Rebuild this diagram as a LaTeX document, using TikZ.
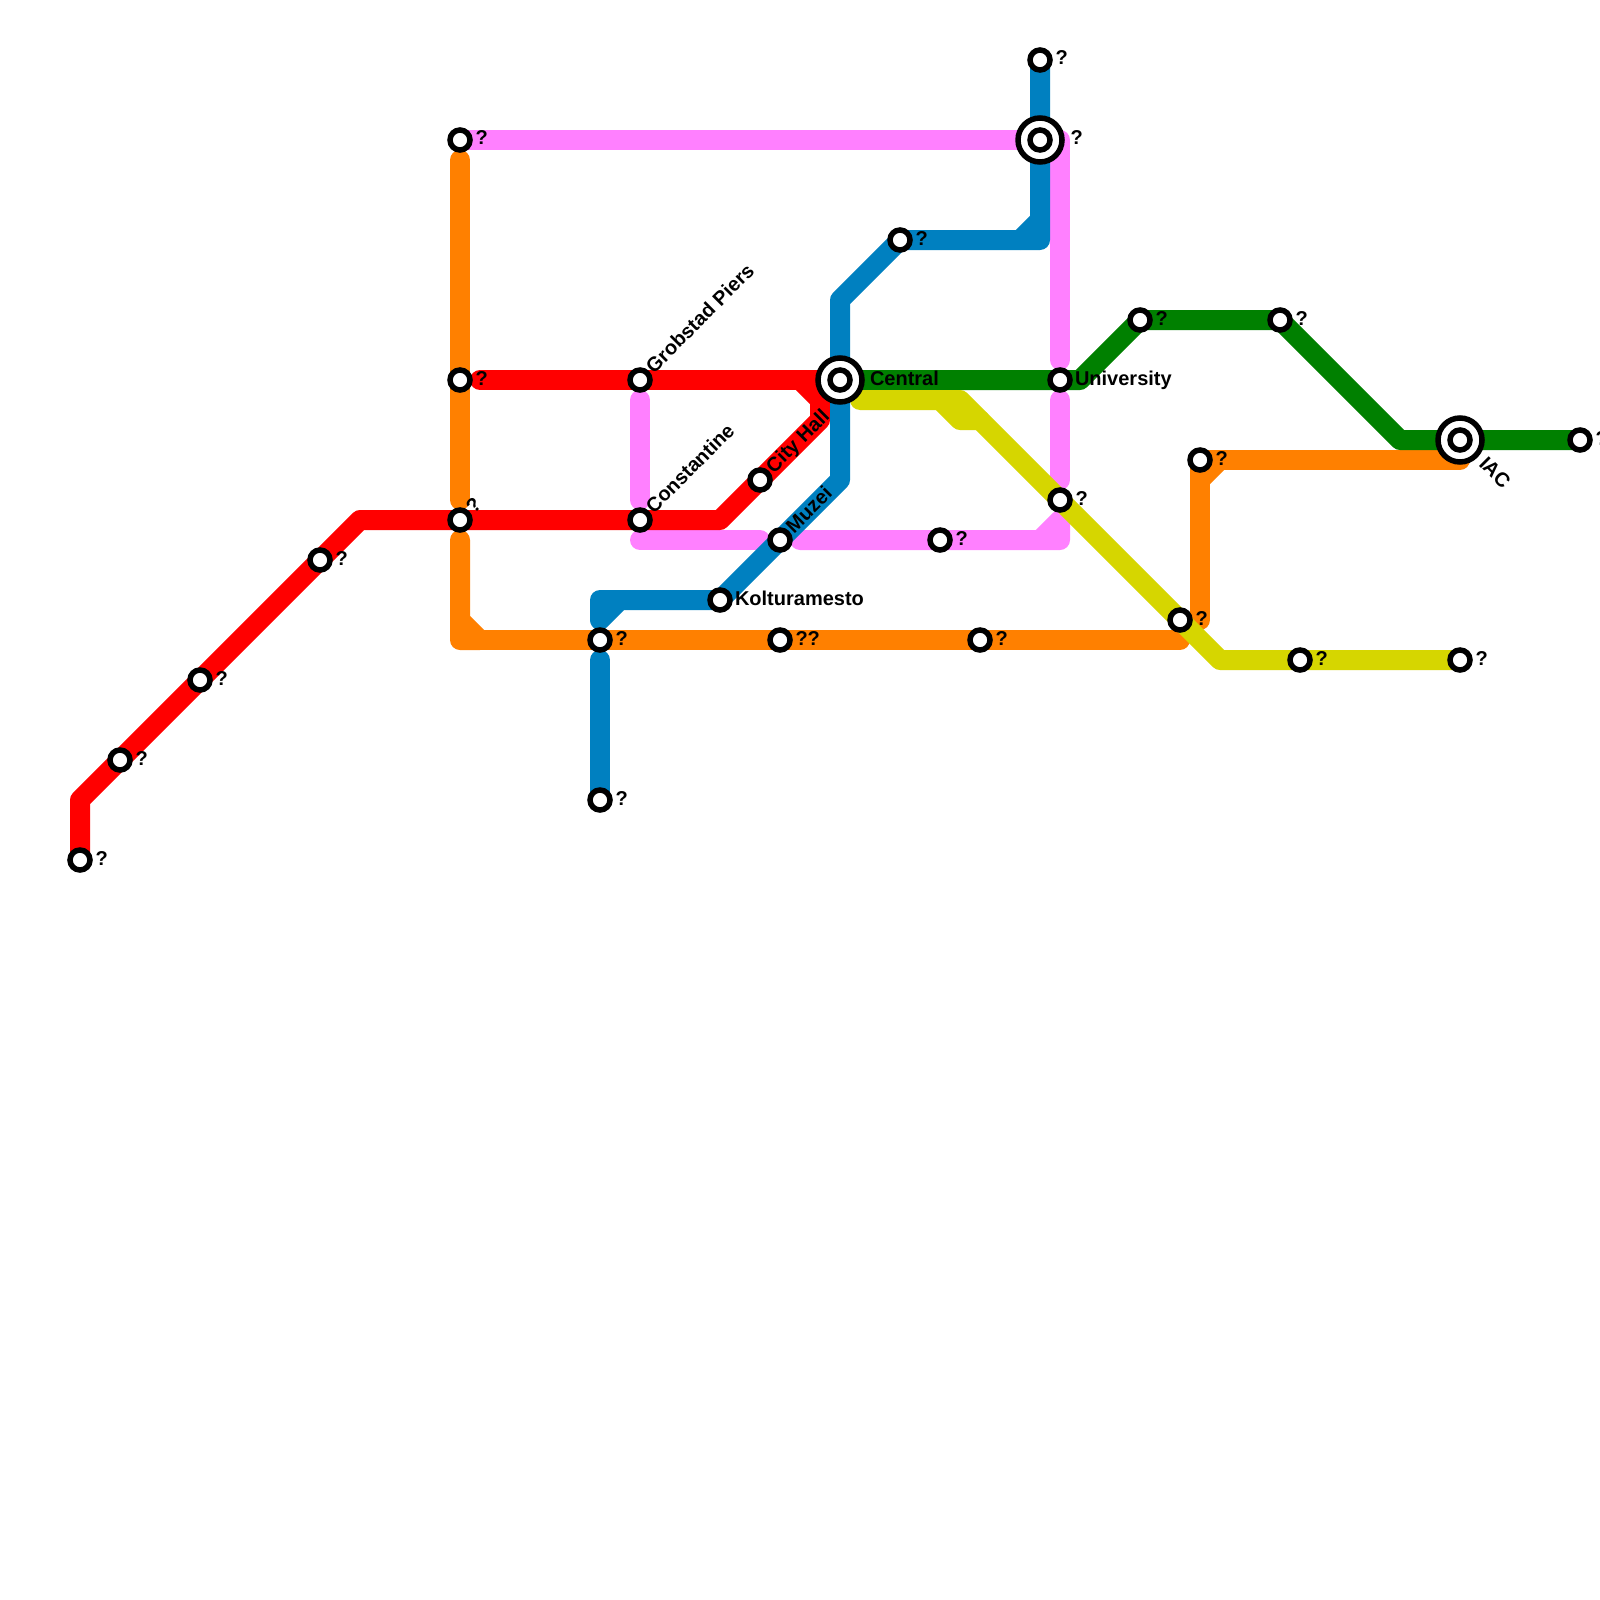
\documentclass[tikz,border=0pt]{standalone}
\usepackage{fontspec}
\setsansfont{Liberation Sans}
\usetikzlibrary{calc}
\definecolor{LineRed}{HTML}{FF0000}
\definecolor{LineBlue}{HTML}{0080C0}
\definecolor{LineOrange}{HTML}{FF8000}
\definecolor{LineGreen}{HTML}{008000}
\definecolor{LineYellow}{HTML}{D6D600}
\definecolor{LinePink}{HTML}{FF80FF}
\tikzset{
  route/.style={line width=20pt,line cap=round,line join=round},
  stop/.style={circle,draw=black,fill=white,line width=5.5pt,minimum size=20pt,inner sep=0pt,outer sep=0pt},
  hub/.style={circle,draw=black,fill=white,line width=5.5pt,minimum size=44pt,inner sep=0pt,outer sep=0pt},
  tag/.style={anchor=base west,inner sep=0pt,outer sep=0pt}
}
\begin{document}
\begin{tikzpicture}[x=1pt,y=-1pt,every node/.style={font=\sffamily\bfseries\fontsize{20}{24}\selectfont,text=black}]
\useasboundingbox (0,0) rectangle (1600,1600);
\fill[white] (0,0) rectangle (1600,1600);
\coordinate (Terminus) at (80,860); \coordinate (RedB) at (120,760); \coordinate (RedC) at (200,680); \coordinate (RedD) at (320,560);
\coordinate (Cross) at (460,520); \coordinate (Upper) at (460,380); \coordinate (PinkEnd) at (460,140);
\coordinate (Grobstad) at (640,380); \coordinate (Constantine) at (640,520); \coordinate (CityHall) at (760,480);
\coordinate (Central) at (840,380); \coordinate (Muzei) at (780,540); \coordinate (Kolturamesto) at (720,600);
\coordinate (BlueSouth) at (600,800); \coordinate (Junction) at (600,640); \coordinate (DoubleQ) at (780,640); \coordinate (OrangeE) at (980,640);
\coordinate (BlueTurn) at (900,240); \coordinate (BlueNorth) at (1040,60); \coordinate (NorthHub) at (1040,140);
\coordinate (PinkS) at (940,540); \coordinate (PinkE) at (1060,500); \coordinate (University) at (1060,380);
\coordinate (GreenA) at (1140,320); \coordinate (GreenB) at (1280,320); \coordinate (IAC) at (1460,440); \coordinate (GreenEnd) at (1580,440);
\coordinate (OrangeN) at (1200,460); \coordinate (Meet) at (1180,620); \coordinate (YellowA) at (1300,660); \coordinate (YellowEnd) at (1460,660);
\draw[route,LinePink] (PinkEnd)--(1060,140)--(1060,360);
\draw[route,LinePink] (1060,400)--(1060,480);
\draw[route,LinePink] (Grobstad)++(0,20)--(640,500);
\draw[route,LinePink] (640,540)--(760,540);
\draw[route,LinePink] (800,540)--(PinkS)--(1060,540)--(1060,520)--(1040,540);
\draw[route,LineOrange] (460,160)--(460,500);
\draw[route,LineOrange] (460,540)--(460,640)--(480,640)--(460,620);
\draw[route,LineOrange] (480,640)--(Junction)--(DoubleQ)--(OrangeE)--(1180,640);
\draw[route,LineOrange] (IAC)++(0,20)--(OrangeN)--(1200,620);
\draw[route,LineOrange] (1220,460)--(1200,480);
\draw[route,LineRed] (Terminus)--(80,800)--(RedB)--(RedC)--(RedD)--(360,520)--(Cross)--(Constantine)--(720,520)--(CityHall)--(820,420)--(820,400)--(800,380);
\draw[route,LineRed] (480,380)--(Grobstad)--(Central);
\draw[route,LineGreen] (Central)--(University)--(1080,380)--(GreenA)--(GreenB)--(1400,440)--(IAC)--(GreenEnd);
\draw[route,LineYellow] (860,400)--(960,400)--(Meet)--(1220,660)--(YellowA)--(YellowEnd);
\draw[route,LineYellow] (940,400)--(960,420)--(980,420);
\draw[route,LineBlue] (BlueNorth)--(NorthHub)--(1040,240)--(1020,240)--(1040,220);
\draw[route,LineBlue] (1020,240)--(BlueTurn)--(840,300)--(Central)--(840,480)--(Muzei)--(Kolturamesto)--(600,600)--(600,620)--(620,600);
\draw[route,LineBlue] (600,660)--(BlueSouth);
\node[stop] (stopTerminus) at (Terminus) {};
\node[stop] (stopRedB) at (RedB) {};
\node[stop] (stopRedC) at (RedC) {};
\node[stop] (stopRedD) at (RedD) {};
\node[stop] (stopCross) at (Cross) {};
\node[stop] (stopUpper) at (Upper) {};
\node[stop] (stopPinkEnd) at (PinkEnd) {};
\node[stop] (stopGrobstad) at (Grobstad) {};
\node[stop] (stopConstantine) at (Constantine) {};
\node[stop] (stopCityHall) at (CityHall) {};
\node[stop] (stopMuzei) at (Muzei) {};
\node[stop] (stopKolturamesto) at (Kolturamesto) {};
\node[stop] (stopBlueSouth) at (BlueSouth) {};
\node[stop] (stopJunction) at (Junction) {};
\node[stop] (stopDoubleQ) at (DoubleQ) {};
\node[stop] (stopOrangeE) at (OrangeE) {};
\node[stop] (stopBlueTurn) at (BlueTurn) {};
\node[stop] (stopBlueNorth) at (BlueNorth) {};
\node[stop] (stopPinkS) at (PinkS) {};
\node[stop] (stopPinkE) at (PinkE) {};
\node[stop] (stopUniversity) at (University) {};
\node[stop] (stopGreenA) at (GreenA) {};
\node[stop] (stopGreenB) at (GreenB) {};
\node[stop] (stopGreenEnd) at (GreenEnd) {};
\node[stop] (stopOrangeN) at (OrangeN) {};
\node[stop] (stopMeet) at (Meet) {};
\node[stop] (stopYellowA) at (YellowA) {};
\node[stop] (stopYellowEnd) at (YellowEnd) {};
\node[hub] (hubCentral) at (Central) {};
\node[stop] (stopCentral) at (Central) {};
\node[hub] (hubNorth) at (NorthHub) {};
\node[stop] (stopNorth) at (NorthHub) {};
\node[hub] (hubIAC) at (IAC) {};
\node[stop] (stopIAC) at (IAC) {};
\node[tag] (tagTerminus) at ($(Terminus)+(15.5,5)$) {?};
\node[tag] (tagRedB) at ($(RedB)+(15.5,5)$) {?};
\node[tag] (tagRedC) at ($(RedC)+(15.5,5)$) {?};
\node[tag] (tagRedD) at ($(RedD)+(15.5,5)$) {?};
\node[tag,rotate=45] (tagCross) at ($(Cross)+(14,-6)$) {?};
\node[tag] (tagUpper) at ($(Upper)+(15.5,5)$) {?};
\node[tag] (tagPinkEnd) at ($(PinkEnd)+(15.5,5)$) {?};
\node[tag,rotate=45] (tagGrobstad) at ($(Grobstad)+(14,-6)$) {Grobstad Piers};
\node[tag,rotate=45] (tagConstantine) at ($(Constantine)+(14,-6)$) {Constantine};
\node[tag,rotate=45] (tagCityHall) at ($(CityHall)+(14,-6)$) {City Hall};
\node[tag,rotate=45] (tagMuzei) at ($(Muzei)+(14,-6)$) {Muzei};
\node[tag] (tagKolturamesto) at ($(Kolturamesto)+(15,5)$) {Kolturamesto};
\node[tag] (tagBlueSouth) at ($(BlueSouth)+(15.5,5)$) {?};
\node[tag] (tagJunction) at ($(Junction)+(15.5,5)$) {?};
\node[tag] (tagDoubleQ) at ($(DoubleQ)+(15.5,5)$) {??};
\node[tag] (tagOrangeE) at ($(OrangeE)+(15.5,5)$) {?};
\node[tag] (tagBlueTurn) at ($(BlueTurn)+(15.5,5)$) {?};
\node[tag] (tagBlueNorth) at ($(BlueNorth)+(15.5,5)$) {?};
\node[tag] (tagNorth) at ($(NorthHub)+(30.5,5)$) {?};
\node[tag] (tagPinkS) at ($(PinkS)+(15.5,5)$) {?};
\node[tag] (tagPinkE) at ($(PinkE)+(15.5,5)$) {?};
\node[tag] (tagUniversity) at ($(University)+(15,5)$) {University};
\node[tag] (tagCentral) at ($(Central)+(30,5)$) {Central};
\node[tag] (tagGreenA) at ($(GreenA)+(15.5,5)$) {?};
\node[tag] (tagGreenB) at ($(GreenB)+(15.5,5)$) {?};
\node[tag,rotate=-45] (tagIAC) at ($(IAC)+(18,25)$) {IAC};
\node[tag] (tagGreenEnd) at ($(GreenEnd)+(15.5,5)$) {?};
\node[tag] (tagOrangeN) at ($(OrangeN)+(15.5,5)$) {?};
\node[tag] (tagMeet) at ($(Meet)+(15.5,5)$) {?};
\node[tag] (tagYellowA) at ($(YellowA)+(15.5,5)$) {?};
\node[tag] (tagYellowEnd) at ($(YellowEnd)+(15.5,5)$) {?};
\end{tikzpicture}
\end{document}
